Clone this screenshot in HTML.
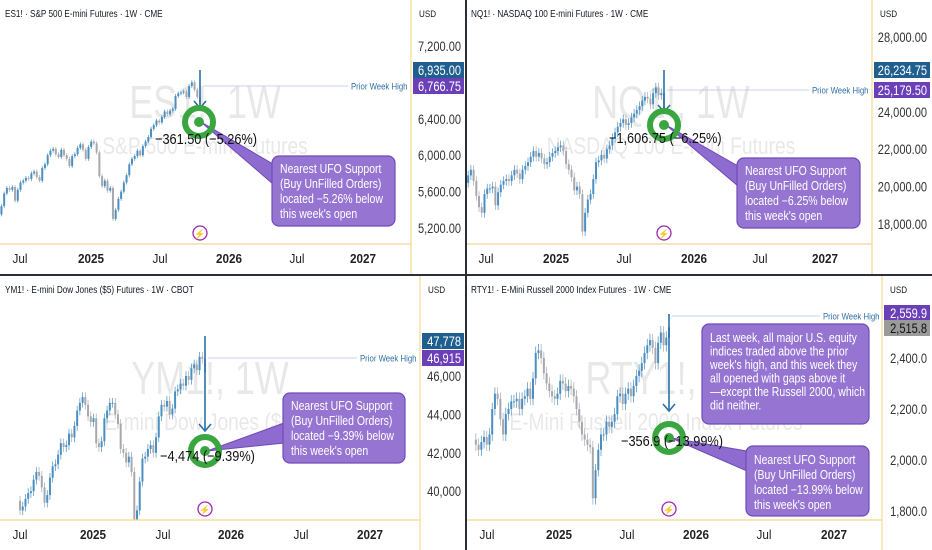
<!DOCTYPE html>
<html><head><meta charset="utf-8"><style>
body{margin:0;width:932px;height:550px;overflow:hidden;background:#fff;font-family:"Liberation Sans",sans-serif}
svg{position:absolute;left:0;top:0}
</style></head><body>
<svg id="chart" width="932" height="550" viewBox="0 0 932 550"></svg>
<script>
// ---- data ----
const esCloses=[5300,5280,5350,5420,5470,5460,5560,5620,5600,5520,5470,5350,5440,5580,5640,5620,5650,5500,5620,5700,5720,5750,5740,5800,5820,5760,5720,5860,5900,6000,6050,6070,6010,5980,6060,6000,5960,5880,5990,6010,6080,6120,6060,5960,6090,6150,6130,6030,5770,5660,5720,5610,5640,5300,5400,5520,5600,5700,5780,5900,5960,5990,6050,6000,6100,6150,6200,6290,6330,6380,6360,6420,6480,6450,6490,6510,6650,6680,6690,6700,6640,6760,6800,6720,6640,6560];
const nqCloses=[18300,18500,18700,18900,19400,19600,20200,20600,20900,20300,19500,18900,18600,19600,19900,19900,20000,19000,19700,20100,20300,20400,20300,20600,20900,20700,20400,20900,21100,21300,21600,21900,21600,21800,21500,21200,21300,21600,21800,21900,22100,22200,21900,21200,20900,20500,19800,20000,19600,17600,18600,19300,19600,20400,21300,21400,21700,21500,22000,22200,22600,22900,23200,23400,23600,23300,23400,23700,23900,24100,24300,24600,24800,24700,24400,25000,25300,24900,25000,24200];
const ymCloses=[39500,39000,39200,39600,39900,40000,40600,41000,40800,40200,39400,39800,40700,41300,41400,41900,42500,42300,42400,43000,42800,43400,44200,44600,44900,44500,43900,43600,43800,42500,42300,42600,43800,44200,44600,44600,44000,43500,42200,42000,41500,41800,41000,38000,39000,40500,41700,41800,42200,42400,42000,42800,43900,44500,44400,44700,44000,44300,45200,45300,45600,45500,46000,45800,46400,46600,46300,47000,46900,46200];
const rtyCloses=[2080,2060,2040,2070,2090,2060,2100,2200,2260,2240,2160,2100,2180,2200,2230,2230,2240,2200,2240,2250,2280,2240,2320,2420,2430,2400,2340,2300,2270,2250,2240,2260,2310,2300,2270,2290,2280,2250,2200,2150,2100,2080,2060,2050,1850,1960,2040,2100,2100,2150,2130,2150,2180,2250,2260,2220,2260,2280,2250,2290,2330,2350,2380,2420,2450,2470,2440,2380,2460,2500,2450,2480,2520];
const esTicks=[7200,6400,6000,5600,5200];
const nqTicks=[28000,24000,22000,20000,18000];
const ymTicks=[46000,44000,42000,40000];
const rtyTicks=[2400,2200,2000,1800];
const timeLabels=["Jul","2025","Jul","2026","Jul","2027"];

const NS="http://www.w3.org/2000/svg";
const svg=document.getElementById('chart');
function mk(t,a,p){const e=document.createElementNS(NS,t);for(const k in a)e.setAttribute(k,a[k]);(p||svg).appendChild(e);return e;}
function ctext(p,x,y,s,sx,a){const e=mk('text',Object.assign({x:0,y:0,transform:`translate(${x},${y}) scale(${sx},1)`},a),p);e.textContent=s;return e;}

function panel(c){
  const g=mk('g',{transform:`translate(${c.ox},${c.oy})`});
  
  
  const y=p=>c.y0+(c.p0-p)*c.k;
  const clipId='clip'+c.name;
  const cp=mk('clipPath',{id:clipId},g);mk('rect',{x:0,y:20,width:c.ax,height:c.pb-20},cp);
  const w1=ctext(g,c.wx,c.wy,c.wm1,0.78,{'font-size':46,fill:'#000','fill-opacity':0.09,'text-anchor':'middle'});
  
  const w2=ctext(g,c.wx,c.wy+36,c.wm2,0.8,{'font-size':24,fill:'#000','fill-opacity':0.09,'text-anchor':'middle'});
  
  const cg=mk('g',{'clip-path':`url(#${clipId})`},g);
  
  const d=c.data,n=d.length,step=2.72;
  for(let i=1;i<n;i++){
    const o=d[i-1],cl=d[i],x=c.lastX-(n-1-i)*step;
    const hi=Math.max(o,cl)+c.wick,lo=Math.min(o,cl)-c.wick;
    const col=cl>=o?'#4a8ec2':'#a6a8ad';
    const wk=mk('line',{x1:x,x2:x,y1:y(hi),y2:y(lo),stroke:col,'stroke-width':0.7},cg);
    
    const b=mk('rect',{x:x-1,y:Math.min(y(o),y(cl)),width:2,height:Math.max(1,Math.abs(y(o)-y(cl))),fill:col},cg);
    
  }
  mk('line',{x1:c.lastX,x2:c.lastX,y1:c.spikeTop,y2:c.arrowEnd,stroke:'#2a6fa8','stroke-width':1.6},g);
  mk('path',{d:`M${c.lastX-6} ${c.arrowEnd-7} L${c.lastX} ${c.arrowEnd} L${c.lastX+6} ${c.arrowEnd-7}`,fill:'none',stroke:'#2a6fa8','stroke-width':1.6},g);
  mk('line',{x1:c.ax,x2:c.ax,y1:0,y2:274,stroke:'#f3d88e','stroke-width':1.2},g);
  mk('line',{x1:0,x2:c.ax,y1:c.pb,y2:c.pb,stroke:'#f3d88e','stroke-width':1.2},g);
  const t=ctext(g,5,17,c.title,0.82,{'font-size':10,fill:'#131722'});
  
  const u=ctext(g,c.ax+8,17,'USD',0.85,{'font-size':9.5,fill:'#131722'});
  
  c.ticks.forEach(v=>{
    const tt=ctext(g,461,y(v)+5,v.toLocaleString('en-US',{minimumFractionDigits:c.dec,maximumFractionDigits:c.dec}),0.82,{'font-size':13.5,fill:'#333','text-anchor':'end'});
    
  });
  timeLabels.forEach((s,i)=>{
    const tl=ctext(g,c.tx[i],c.pb+19,s,0.9,{'font-size':13,fill:'#222','text-anchor':'middle','font-weight':s.length==4?'bold':'normal'});
    
  });
  mk('line',{x1:c.lastX+3,x2:c.pwhX-3,y1:c.pwhY,y2:c.pwhY,stroke:'#b7c4e8','stroke-width':0.8},g);
  const pw=ctext(g,c.pwhX,c.pwhY+3.5,'Prior Week High',0.82,{'font-size':9.5,fill:'#2f6fa5'});
  
  c.tags.forEach(tg=>{
    mk('rect',{x:c.ax+2,y:tg.y-8,width:466-c.ax-4,height:16,fill:tg.bg},g);
    const tx=ctext(g,461,tg.y+5,tg.t,0.82,{'font-size':13.5,fill:tg.fg,'text-anchor':'end'});
    
  });
  c.boxes.forEach(b=>{
    if(b.py2>b.py1) mk('path',{d:`M${c.rx+2} ${c.ry} L${b.x+1} ${b.y+b.py1} L${b.x+1} ${b.y+b.py2} Z`,fill:'#8e6bcf',stroke:'#6f4bb8','stroke-width':1},g);
    const r=mk('rect',{x:b.x,y:b.y,width:b.w,height:b.h,rx:7,fill:'#9675d2',stroke:'#6f4bb8','stroke-width':1.2},g);
    
    b.lines.forEach((l,i)=>{ctext(g,b.x+8,b.y+b.ty+i*b.lh,l,0.84,{'font-size':b.fs,fill:'#fff'});});
  });
  const tg=mk('g',{},g);
  mk('circle',{cx:c.rx,cy:c.ry,r:14,fill:'none',stroke:'#3aa63f','stroke-width':6},tg);
  mk('circle',{cx:c.rx,cy:c.ry,r:5,fill:'#3aa63f'},tg);
  const mv=ctext(g,c.mx,c.my,c.move,0.85,{'font-size':15,fill:'#111'});
  
  const ic=mk('circle',{cx:c.lastX,cy:c.pb-11,r:7,fill:'#fff',stroke:'#9c27b0','stroke-width':1.3},g);
  
  const bolt=mk('text',{x:c.lastX,y:c.pb-7,'font-size':9,fill:'#9c27b0','text-anchor':'middle'},g);bolt.textContent='⚡';
}
const ufo=p=>["Nearest UFO Support","(Buy UnFilled Orders)","located −"+p+"% below","this week's open"];
panel({name:'es',ox:0,oy:0,data:esCloses,p0:7200,y0:46,k:0.091,wick:22,ax:411,pb:244,lastX:200,dec:2,ticks:esTicks,
 title:'ES1! · S&P 500 E-mini Futures · 1W · CME',wm1:'ES1!, 1W',wm2:'S&P 500 E-mini Futures',wx:205,wy:118,
 tx:[20,91,160,229,297,363],spikeTop:70,arrowEnd:108,pwhX:351,pwhY:86,
 tags:[{y:70,t:'6,935.00',bg:'#1f5f8f',fg:'#fff'},{y:86,t:'6,766.75',bg:'#6b3fb8',fg:'#fff'}],
 rx:199,ry:122,mx:155,my:144,move:'−361.50 (−5.26%)',
 boxes:[{x:272,y:156,w:123,h:70,py1:8,py2:28,ty:17,lh:15,fs:12.5,lines:ufo('5.26')}]});
panel({name:'nq',ox:466,oy:0,data:nqCloses,p0:28000,y0:37,k:0.0187,wick:250,ax:406,pb:244,lastX:198,dec:2,ticks:nqTicks,
 title:'NQ1! · NASDAQ 100 E-mini Futures · 1W · CME',wm1:'NQ1!, 1W',wm2:'NASDAQ 100 E-mini Futures',wx:205,wy:118,
 tx:[20,90,158,228,294,359],spikeTop:70,arrowEnd:112,pwhX:346,pwhY:90,
 tags:[{y:70,t:'26,234.75',bg:'#1f5f8f',fg:'#fff'},{y:90,t:'25,179.50',bg:'#6b3fb8',fg:'#fff'}],
 rx:198,ry:125,mx:143,my:143,move:'−1,606.75 (−6.25%)',
 boxes:[{x:271,y:158,w:123,h:70,py1:8,py2:28,ty:17,lh:15,fs:12.5,lines:ufo('6.25')}]});
panel({name:'ym',ox:0,oy:276,data:ymCloses,p0:46000,y0:100,k:0.0192,wick:250,ax:420,pb:244,lastX:205,dec:0,ticks:ymTicks,
 title:'YM1! · E-mini Dow Jones ($5) Futures · 1W · CBOT',wm1:'YM1!, 1W',wm2:'E-mini Dow Jones ($5) F',wx:210,wy:118,
 tx:[20,93,163,231,301,370],spikeTop:60,arrowEnd:155,pwhX:360,pwhY:82,
 tags:[{y:65,t:'47,778',bg:'#1f5f8f',fg:'#fff'},{y:82,t:'46,915',bg:'#6b3fb8',fg:'#fff'}],
 rx:205,ry:175,mx:160,my:185,move:'−4,474 (−9.39%)',
 boxes:[{x:283,y:117,w:122,h:70,py1:30,py2:50,ty:17,lh:15,fs:12.5,lines:ufo('9.39')}]});
panel({name:'rty',ox:466,oy:276,data:rtyCloses,p0:2400,y0:82,k:0.255,wick:25,ax:416,pb:244,lastX:203,dec:1,ticks:rtyTicks,
 title:'RTY1! · E-Mini Russell 2000 Index Futures · 1W · CME',wm1:'RTY1!, 1',wm2:'E-Mini Russell 2000 Index Futures',wx:190,wy:118,
 tx:[21,93,161,230,298,368],spikeTop:38,arrowEnd:135,pwhX:357,pwhY:40,
 tags:[{y:37,t:'2,559.9',bg:'#6b3fb8',fg:'#fff'},{y:52,t:'2,515.8',bg:'#9a9a9a',fg:'#111'}],
 rx:203,ry:162,mx:155,my:170,move:'−356.9 (−13.99%)',
 boxes:[{x:280,y:170,w:123,h:70,py1:5,py2:25,ty:18,lh:15,fs:12.5,lines:ufo('13.99')},
        {x:236,y:48,w:167,h:100,py1:0,py2:0,ty:18,lh:13.5,fs:12.5,lines:["Last week, all major U.S. equity","indices traded above the prior","week's high, and this week they","all opened with gaps above it","—except the Russell 2000, which","did neither."]}]});
mk('rect',{x:465,y:0,width:2,height:550,fill:'#2a2e39'});
mk('rect',{x:0,y:274,width:932,height:2,fill:'#2a2e39'});
</script>
</body></html>
